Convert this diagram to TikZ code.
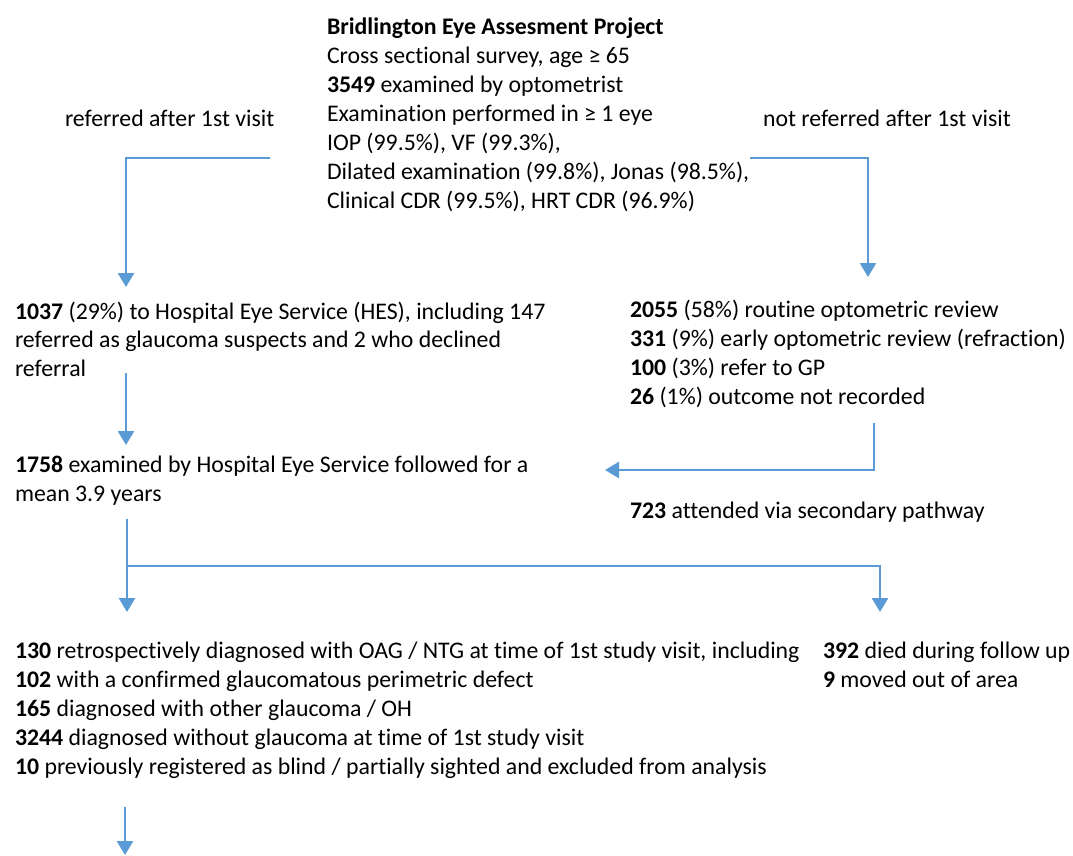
\documentclass[tikz,border=0pt]{standalone}
\usepackage{fontspec}
\setmainfont{Carlito}[Ligatures=NoCommon]
\usetikzlibrary{arrows.meta}
\definecolor{flowblue}{HTML}{5B9BD5}

\begin{document}
\begin{tikzpicture}[x=1pt,y=-1pt,inner sep=0pt,outer sep=0pt,
flowtext/.style={anchor=base west,align=left,font=\fontsize{23.8}{28.3}\selectfont},
widetext/.style={flowtext,font=\fontsize{23.8}{29}\selectfont},
flow/.style={draw=flowblue,line width=2.6pt,-{Triangle[width=16pt,length=14pt]}}]
\useasboundingbox (0,0) rectangle (1073,855);

% text blocks (placed at the baseline of their last line)
\node[widetext] (beap) at (327,208) {\textbf{Bridlington Eye Assesment Project}\\
Cross sectional survey, age ≥ 65\\
\textbf{3549} examined by optometrist\\
Examination performed in ≥ 1 eye\\
IOP (99.5\%), VF (99.3\%),\\
Dilated examination (99.8\%), Jonas (98.5\%),\\
Clinical CDR (99.5\%), HRT CDR (96.9\%)};
\node[flowtext] (refd) at (65,126) {referred after 1st visit};
\node[flowtext] (notrefd) at (763,126) {not referred after 1st visit};
\node[flowtext] (hes) at (15,376) {\textbf{1037} (29\%) to Hospital Eye Service (HES), including 147\\
referred as glaucoma suspects and 2 who declined\\
referral};
\node[widetext] (optom) at (630,404) {\textbf{2055} (58\%) routine optometric review\\
\textbf{331} (9\%) early optometric review (refraction)\\
\textbf{100} (3\%) refer to GP\\
\textbf{26} (1\%) outcome not recorded};
\node[flowtext] (exam) at (15,501) {\textbf{1758} examined by Hospital Eye Service followed for a\\
mean 3.9 years};
\node[flowtext] (second) at (630,518) {\textbf{723} attended via secondary pathway};
\node[widetext] (diag) at (15,774) {\textbf{130} retrospectively diagnosed with OAG / NTG at time of 1st study visit, including\\
\textbf{102} with a confirmed glaucomatous perimetric defect\\
\textbf{165} diagnosed with other glaucoma / OH\\
\textbf{3244} diagnosed without glaucoma at time of 1st study visit\\
\textbf{10} previously registered as blind / partially sighted and excluded from analysis};
\node[widetext] (lost) at (823,687) {\textbf{392} died during follow up\\
\textbf{9} moved out of area};

% connector ends
\coordinate (a1) at (270,158);
\coordinate (a2) at (750,158);
\coordinate (a3) at (126,373);
\coordinate (a4) at (874,423);
\coordinate (a5) at (605,470);
\coordinate (a6) at (127,519);
\coordinate (a7) at (880,612);
\coordinate (a8) at (125,807);

\draw[flow] (a1) -| (126,287);
\draw[flow] (a2) -| (868,277);
\draw[flow] (a3) -- (126,445);
\draw[flow] (a4) |- (a5);
\draw[flow] (a6) -- (127,612);
\draw[flow] (a6 |- 0,566) -| (a7);
\draw[flow] (a8) -- (125,855);

\end{tikzpicture}
\end{document}
